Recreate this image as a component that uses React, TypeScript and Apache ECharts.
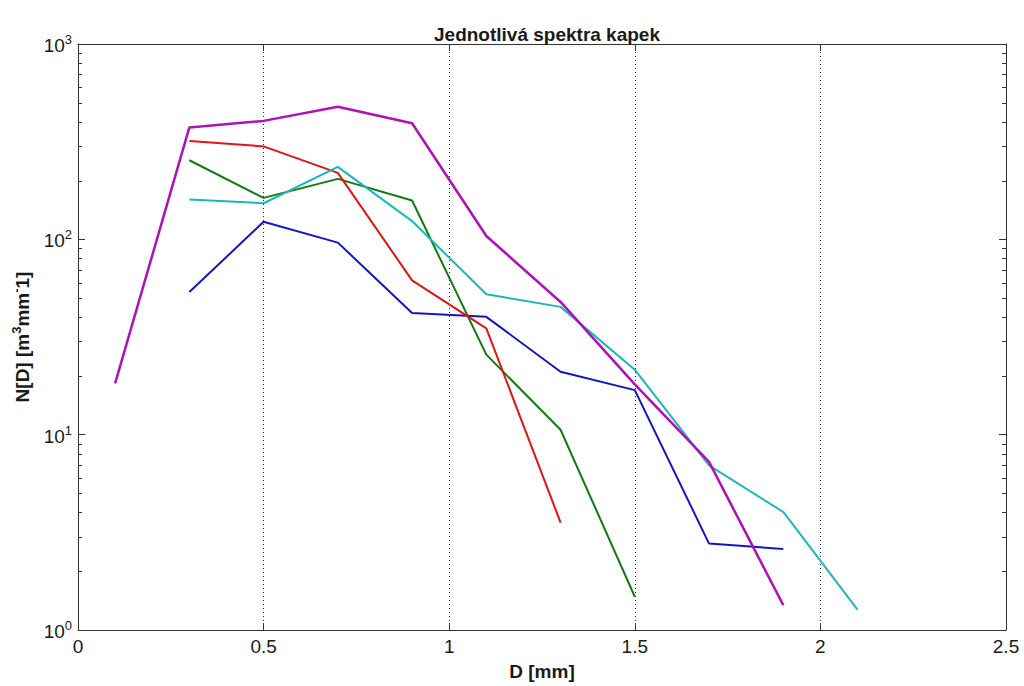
import React, { useEffect, useRef } from "react";
import * as echarts from "echarts";

// Drop size spectra N(D) for individual samples (log scale)
const chartTitle = "Jednotlivá spektra kapek";
const xAxisName = "D [mm]";

const xMin = 0;
const xMax = 2.5;
const xInterval = 0.5;
const yMin = 1;
const yMax = 1000;

// minor tick positions of the log axis (2..9 per decade)
const yMinorTicks = [
  2, 3, 4, 5, 6, 7, 8, 9,
  20, 30, 40, 50, 60, 70, 80, 90,
  200, 300, 400, 500, 600, 700, 800, 900,
];

const dPurple = [0.1, 0.3, 0.5, 0.7, 0.9, 1.1, 1.3, 1.5, 1.7, 1.9];
const nPurple = [18.3, 374, 404, 477, 393, 104, 47.8, 18.1, 7.25, 1.34];

const dRed = [0.3, 0.5, 0.7, 0.9, 1.1, 1.3];
const nRed = [319, 299, 219, 61.6, 35.0, 3.55];

const dGreen = [0.3, 0.5, 0.7, 0.9, 1.1, 1.3, 1.5];
const nGreen = [254, 163, 204, 158, 25.7, 10.6, 1.48];

const dCyan = [0.3, 0.5, 0.7, 0.9, 1.1, 1.3, 1.5, 1.7, 1.9, 2.1];
const nCyan = [160, 153, 235, 124, 52.3, 45.1, 21.5, 6.97, 4.02, 1.27];

const dBlue = [0.3, 0.5, 0.7, 0.9, 1.1, 1.3, 1.5, 1.7, 1.9];
const nBlue = [53.7, 123, 96.2, 42.0, 40.1, 21.0, 16.9, 2.77, 2.6];

const FONT = "Arial, 'Liberation Sans', Helvetica, sans-serif";
const AXIS_COLOR = "#333";
const TEXT_COLOR = "#1a1a1a";

function pairs(d: number[], n: number[]) {
  return d.map((x, i) => [x, n[i]]);
}

function lineSeries(name: string, d: number[], n: number[], color: string, width: number) {
  return {
    name,
    type: "line",
    data: pairs(d, n),
    xAxisIndex: 0,
    yAxisIndex: 0,
    showSymbol: false,
    symbol: "none",
    lineStyle: { color, width },
    itemStyle: { color },
    emphasis: { disabled: true },
    z: 3,
  };
}

export default function App() {
  const ref = useRef<HTMLDivElement>(null);

  useEffect(() => {
    if (!ref.current) return;
    const chart = echarts.init(ref.current, null, { renderer: "svg" });

    const powLabel = (v: number) => `{b|10}{s|${Math.round(Math.log10(v))}}`;
    const powRich = {
      b: { fontSize: 19, fontFamily: FONT, color: TEXT_COLOR, lineHeight: 22, verticalAlign: "bottom" },
      s: { fontSize: 13, fontFamily: FONT, color: TEXT_COLOR, lineHeight: 14, verticalAlign: "top" },
    };

    const option: any = {
      animation: false,
      backgroundColor: "#ffffff",
      title: {
        text: chartTitle,
        left: 542,
        top: 20,
        textAlign: "center",
        textStyle: { fontFamily: FONT, fontSize: 19, fontWeight: "bold", color: TEXT_COLOR },
      },
      grid: { left: 78, right: 18, top: 44, bottom: 49, containLabel: false },
      xAxis: [
        {
          type: "value",
          min: xMin,
          max: xMax,
          interval: xInterval,
          position: "bottom",
          name: xAxisName,
          nameLocation: "middle",
          nameGap: 32,
          nameTextStyle: { fontFamily: FONT, fontSize: 19, fontWeight: "bold", color: TEXT_COLOR },
          axisLine: { show: true, onZero: false, lineStyle: { color: AXIS_COLOR, width: 1 } },
          axisTick: { show: true, inside: true, length: 7, lineStyle: { color: AXIS_COLOR } },
          axisLabel: {
            fontFamily: FONT,
            fontSize: 19,
            color: TEXT_COLOR,
            margin: 7,
            formatter: (v: number) => String(v),
          },
          splitLine: { show: true, lineStyle: { color: "#222", type: [1, 3], width: 1 } },
        },
        {
          type: "value",
          min: xMin,
          max: xMax,
          interval: xInterval,
          position: "top",
          axisLine: { show: true, onZero: false, lineStyle: { color: AXIS_COLOR, width: 1 } },
          axisTick: { show: true, inside: true, length: 7, lineStyle: { color: AXIS_COLOR } },
          axisLabel: { show: false },
          splitLine: { show: false },
        },
      ],
      yAxis: [
        {
          type: "log",
          logBase: 10,
          min: yMin,
          max: yMax,
          position: "left",
          name: "{a|N[D] [m}{s|3}{a|mm}{s|-}{a|1]}",
          nameLocation: "middle",
          nameGap: 46,
          nameRotate: 90,
          nameTextStyle: {
            fontFamily: FONT,
            color: TEXT_COLOR,
            rich: {
              a: { fontSize: 19, fontWeight: "bold", fontFamily: FONT, color: TEXT_COLOR, lineHeight: 22, verticalAlign: "bottom" },
              s: { fontSize: 13, fontWeight: "bold", fontFamily: FONT, color: TEXT_COLOR, lineHeight: 14, verticalAlign: "top" },
            },
          },
          axisLine: { show: true, onZero: false, lineStyle: { color: AXIS_COLOR, width: 1 } },
          axisTick: { show: true, inside: true, length: 7, lineStyle: { color: AXIS_COLOR } },
          axisLabel: { margin: 6, formatter: powLabel, rich: powRich },
          splitLine: { show: false },
        },
        {
          type: "log",
          logBase: 10,
          min: yMin,
          max: yMax,
          position: "right",
          axisLine: { show: true, onZero: false, lineStyle: { color: AXIS_COLOR, width: 1 } },
          axisTick: { show: true, inside: true, length: 7, lineStyle: { color: AXIS_COLOR } },
          axisLabel: { show: false },
          splitLine: { show: false },
        },
      ],
      series: [
        {
          type: "custom",
          name: "minor ticks",
          silent: true,
          xAxisIndex: 0,
          yAxisIndex: 0,
          data: yMinorTicks.map((v) => [xMin, v]),
          encode: { x: 0, y: 1 },
          renderItem: (params: any, api: any) => {
            const y = Math.round(api.coord([xMin, api.value(1)])[1]) + 0.5;
            const cs = params.coordSys;
            const xl = cs.x;
            const xr = cs.x + cs.width;
            const style = { stroke: AXIS_COLOR, lineWidth: 1 };
            return {
              type: "group",
              children: [
                { type: "line", shape: { x1: xl, y1: y, x2: xl + 4, y2: y }, style },
                { type: "line", shape: { x1: xr - 4, y1: y, x2: xr, y2: y }, style },
              ],
            };
          },
          z: 2,
        },
        lineSeries("blue", dBlue, nBlue, "#1414c8", 2),
        lineSeries("green", dGreen, nGreen, "#127a12", 2),
        lineSeries("red", dRed, nRed, "#e01414", 2),
        lineSeries("cyan", dCyan, nCyan, "#1cb8b8", 2),
        lineSeries("purple", dPurple, nPurple, "#b010b8", 2.5),
      ],
    };

    chart.setOption(option);
    return () => chart.dispose();
  }, []);

  return (
    <div
      ref={ref}
      style={{ position: "fixed", left: 0, top: 0, width: 1024, height: 686, background: "#fff" }}
    />
  );
}
